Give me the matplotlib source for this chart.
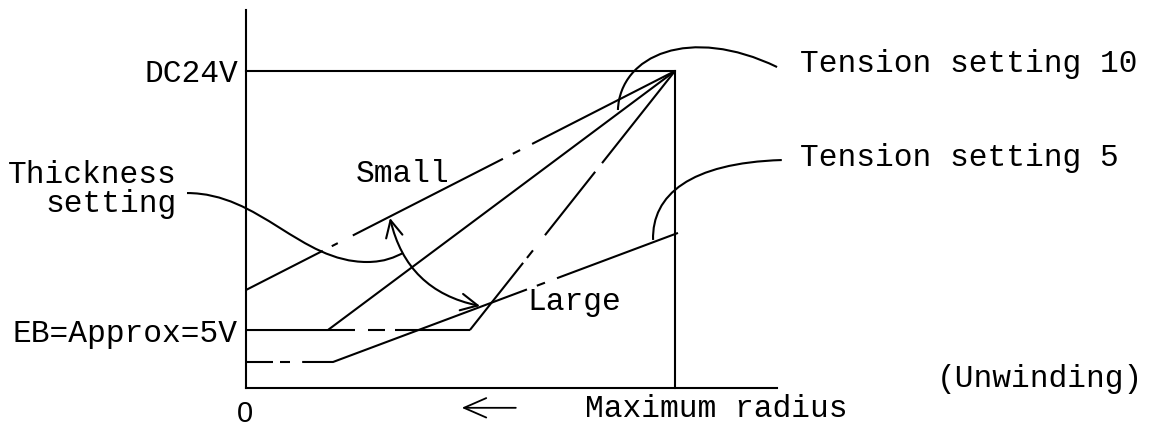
import numpy as np
import matplotlib
matplotlib.use("Agg")
import matplotlib.pyplot as plt
from matplotlib.patches import FancyArrowPatch, PathPatch
from matplotlib.path import Path

# ---------------- data (radius units 0..10, volts) ----------------
radius_max = 10.0
v_supply = 24.0          # DC24V
v_eb = 4.39              # EB = approx 5V level

# Tension setting 10 curves (all converge at max radius / 24V)
t10_small_x = [0.0, 10.0]
t10_small_y = [7.42, 24.0]
t10_mid_x = [0.0, 1.91, 10.0]
t10_mid_y = [4.39, 4.39, 24.0]
t10_large_x = [0.0, 5.22, 10.0]
t10_large_y = [4.39, 4.39, 24.0]
# Tension setting 5 curve
t5_x = [0.0, 2.03, 10.07]
t5_y = [1.97, 1.97, 11.74]

labels = {
    "supply": "DC24V",
    "eb": "EB=Approx=5V",
    "thick": "Thickness\nsetting",
    "small": "Small",
    "large": "Large",
    "t10": "Tension setting 10",
    "t5": "Tension setting 5",
    "origin": "0",
    "xlabel": "Maximum radius",
    "mode": "(Unwinding)",
}

# ---------------- style: visible (solid) stretches of the broken lines ----------------
solid_small = [(0.0, 1.79), (2.00, 2.14), (2.49, 5.99), (6.22, 6.39), (6.67, 10.0)]
solid_mid = [(0.0, 10.0)]
solid_large = [(1.91, 2.54), (2.84, 3.24), (3.47, 5.22), (5.22, 6.46),
               (6.55, 6.69), (6.97, 8.14), (8.30, 10.0)]
solid_t5 = [(0.0, 0.63), (0.79, 1.03), (1.31, 6.55), (6.78, 6.97), (7.25, 10.07)]

LW = 1.5
INK = "black"
FONT = "Liberation Mono"
FS = 22.5

fig = plt.figure(figsize=(11.55, 4.26), dpi=100)
ax = fig.add_axes([0, 0, 1, 1])
ax.set_xlim(-5.734, 21.19)
ax.set_ylim(-2.877, 29.376)
ax.axis("off")


def draw_broken(xs, ys, pieces):
    xs = np.asarray(xs, float)
    ys = np.asarray(ys, float)
    for a, b in pieces:
        inner = xs[(xs > a) & (xs < b)]
        px = np.concatenate([[a], inner, [b]])
        py = np.interp(px, xs, ys)
        ax.plot(px, py, color=INK, lw=LW, solid_capstyle="butt")


# frame: axes, supply level, max radius line
ax.plot([0, 0], [0, 28.6], color=INK, lw=LW)
ax.plot([0, 12.38], [0, 0], color=INK, lw=LW)
ax.plot([0, radius_max], [v_supply, v_supply], color=INK, lw=LW)
ax.plot([radius_max, radius_max], [0, v_supply], color=INK, lw=LW)

draw_broken(t10_small_x, t10_small_y, solid_small)
draw_broken(t10_mid_x, t10_mid_y, solid_mid)
draw_broken(t10_large_x, t10_large_y, solid_large)
draw_broken(t5_x, t5_y, solid_t5)

# thickness double arrow (Small <-> Large)
arr = FancyArrowPatch((3.357, 12.87), (5.455, 6.21),
                      connectionstyle="arc3,rad=0.32",
                      arrowstyle="<->,head_length=0.6,head_width=0.3",
                      mutation_scale=20, lw=LW, color=INK,
                      shrinkA=0, shrinkB=0)
ax.add_patch(arr)

# callout leaders
def bez(verts, codes):
    ax.add_patch(PathPatch(Path(verts, codes), fill=False, lw=LW, ec=INK))

C4 = Path.CURVE4
bez([(8.67, 21.05), (8.72, 25.21), (10.35, 27.48), (12.38, 24.30)],
    [Path.MOVETO, C4, C4, C4])
bez([(9.49, 11.21), (9.46, 14.61), (10.35, 17.04), (12.49, 17.26)],
    [Path.MOVETO, C4, C4, C4])
bez([(-1.375, 14.76), (0.326, 14.76), (1.259, 9.54), (2.82, 9.54),
     (3.24, 9.54), (3.47, 9.92), (3.66, 10.22)],
    [Path.MOVETO, C4, C4, C4, C4, C4, C4])

# x direction arrow
ax.annotate("", xy=(5.03, -1.5), xytext=(6.29, -1.5),
            arrowprops=dict(arrowstyle="->,head_length=0.8,head_width=0.35",
                            lw=1.3, color=INK, mutation_scale=20,
                            shrinkA=0, shrinkB=0))

tk = dict(family=FONT, fontsize=FS, color=INK)
ax.text(-0.19, v_supply - 0.2, labels["supply"], ha="right", va="center", **tk)
ax.text(-0.19, v_eb - 0.3, labels["eb"], ha="right", va="center", **tk)
ax.text(-1.62, 13.3, labels["thick"], ha="right", va="baseline",
        multialignment="right", linespacing=0.98, **tk)
ax.text(2.56, 15.6, labels["small"], ha="left", va="baseline", **tk)
ax.text(6.55, 5.9, labels["large"], ha="left", va="baseline", **tk)
ax.text(12.91, 23.93, labels["t10"], ha="left", va="baseline", **tk)
ax.text(12.91, 16.81, labels["t5"], ha="left", va="baseline", **tk)
ax.text(7.90, -2.2, labels["xlabel"], ha="left", va="baseline", **tk)
ax.text(16.11, 0.08, labels["mode"], ha="left", va="baseline", **tk)
ax.text(-0.02, -1.95, labels["origin"], ha="center", va="center",
        family="Liberation Sans", fontsize=21, color=INK)

fig.savefig("out.png", dpi=100)
